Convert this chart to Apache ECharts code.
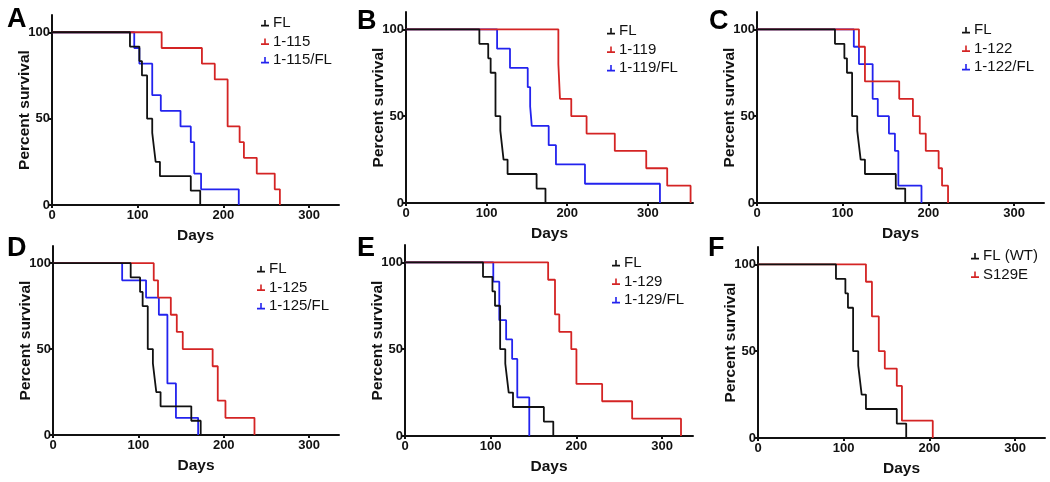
<!DOCTYPE html>
<html><head><meta charset="utf-8">
<script src="https://cdn.jsdelivr.net/npm/echarts@6/dist/echarts.min.js"></script>
<style>html,body{margin:0;padding:0;background:#fff}#c{width:1050px;height:482px}</style>
</head><body><div id="c"></div>
<script>
// ---- tick labels ----
const xTicks = [0, 100, 200, 300];
const yTicks = [0, 50, 100];
const panelLetters = ['A', 'B', 'C', 'D', 'E', 'F'];

// ---- FL control (n=12), shared by all panels ----
const flDays = [91, 102, 105, 111, 117, 119, 121, 126, 162, 173];
const flSurv = [91.7, 83.3, 75, 50, 41.7, 33.3, 25, 16.7, 8.3, 0];

// ---- Panel A ----
const a115Days = [128, 175, 190, 205, 219, 224, 239, 260, 266];
const a115Surv = [90.9, 81.8, 72.7, 45.5, 36.4, 27.3, 18.2, 9.1, 0];
const a115flDays = [96, 102, 117, 127, 150, 162, 166, 174, 218];
const a115flSurv = [90.9, 81.8, 63.6, 54.5, 45.5, 36.4, 18.2, 9.1, 0];

// ---- Panel B ----
const b119Days = [189, 191, 205, 224, 259, 298, 324, 353];
const b119Surv = [80, 60, 50, 40, 30, 20, 10, 0];
const b119flDays = [113, 129, 151, 154, 156, 177, 186, 222, 315];
const b119flSurv = [88.9, 77.8, 66.7, 55.6, 44.4, 33.3, 22.2, 11.1, 0];

// ---- Panel C ----
const c122Days = [119, 126, 166, 182, 190, 197, 212, 216, 223];
const c122Surv = [90, 70, 60, 50, 40, 30, 20, 10, 0];
const c122flDays = [113, 119, 135, 141, 154, 161, 165, 192];
const c122flSurv = [90, 80, 60, 50, 40, 30, 10, 0];

// ---- Panel D ----
const d125Days = [118, 123, 138, 145, 152, 187, 193, 202, 236];
const d125Surv = [90, 80, 70, 60, 50, 40, 20, 10, 0];
const d125flDays = [81, 109, 124, 134, 144, 170];
const d125flSurv = [90, 80, 70, 30, 10, 0];

// ---- Panel E ----
const e129Days = [167, 175, 180, 194, 200, 230, 265, 322];
const e129Surv = [90, 70, 60, 50, 30, 20, 10, 0];
const e129flDays = [103, 110, 118, 125, 131, 145];
const e129flSurv = [88.9, 66.7, 55.6, 44.4, 22.2, 0];

// ---- Panel F ----
const fS129EDays = [126, 133, 141, 148, 162, 168, 204];
const fS129ESurv = [90, 70, 50, 40, 30, 10, 0];

const RED = '#d42424', BLUE = '#2323ee', BLACK = '#111111';

function km(days, surv) {
  const out = [[0, 100]];
  days.forEach((d, i) => out.push([d, surv[i]]));
  return out;
}

const panels = [
  { left: 52, top: 15, width: 287, height: 190, xmax: 335, lg: { left: 261, top: 14 },
    series: [['1-115/FL', a115flDays, a115flSurv, BLUE], ['1-115', a115Days, a115Surv, RED], ['FL', flDays, flSurv, BLACK]],
    legend: ['FL', '1-115', '1-115/FL'], letter: { left: 7, top: 6 } },
  { left: 406, top: 12, width: 287, height: 191, xmax: 356, lg: { left: 607, top: 22 },
    series: [['1-119/FL', b119flDays, b119flSurv, BLUE], ['1-119', b119Days, b119Surv, RED], ['FL', flDays, flSurv, BLACK]],
    legend: ['FL', '1-119', '1-119/FL'], letter: { left: 357, top: 8 } },
  { left: 757, top: 12, width: 287, height: 191, xmax: 335, lg: { left: 962, top: 21 },
    series: [['1-122/FL', c122flDays, c122flSurv, BLUE], ['1-122', c122Days, c122Surv, RED], ['FL', flDays, flSurv, BLACK]],
    legend: ['FL', '1-122', '1-122/FL'], letter: { left: 709, top: 8 } },
  { left: 53, top: 246, width: 286, height: 189, xmax: 335, lg: { left: 257, top: 260 },
    series: [['1-125/FL', d125flDays, d125flSurv, BLUE], ['1-125', d125Days, d125Surv, RED], ['FL', flDays, flSurv, BLACK]],
    legend: ['FL', '1-125', '1-125/FL'], letter: { left: 7, top: 235 } },
  { left: 405, top: 245, width: 288, height: 191, xmax: 336, lg: { left: 612, top: 254 },
    series: [['1-129/FL', e129flDays, e129flSurv, BLUE], ['1-129', e129Days, e129Surv, RED], ['FL', flDays, flSurv, BLACK]],
    legend: ['FL', '1-129', '1-129/FL'], letter: { left: 357, top: 235 } },
  { left: 758, top: 247, width: 287, height: 191, xmax: 335, lg: { left: 971, top: 247 },
    series: [['S129E', fS129EDays, fS129ESurv, RED], ['FL (WT)', flDays, flSurv, BLACK]],
    legend: ['FL (WT)', 'S129E'], letter: { left: 708, top: 235 } }
];

const FONT = 'Liberation Sans, Arial, sans-serif';
const icon = 'path://M0,8 L10,8 L10,10 L0,10 Z M4,2 L6,2 L6,8 L4,8 Z';

const option = {
  animation: false,
  backgroundColor: '#fff',
  grid: [], xAxis: [], yAxis: [], series: [], legend: [], graphic: []
};

panels.forEach((p, i) => {
  option.grid.push({ left: p.left, top: p.top, width: p.width, height: p.height });
  option.xAxis.push({
    gridIndex: i, type: 'value', min: 0, max: p.xmax,
    name: 'Days', nameLocation: 'middle', nameGap: 23, nameMoveOverlap: false,
    nameTextStyle: { fontFamily: FONT, fontWeight: 'bold', fontSize: 15.5, color: '#111' },
    axisLine: { lineStyle: { color: '#111', width: 2 } },
    axisTick: { show: true, length: 3, lineStyle: { color: '#111', width: 2 }, customValues: xTicks },
    axisLabel: { customValues: xTicks, fontFamily: FONT, fontWeight: 'bold', fontSize: 13, color: '#111', margin: 4 },
    splitLine: { show: false }
  });
  option.yAxis.push({
    gridIndex: i, type: 'value', min: 0, max: 110,
    name: 'Percent survival', nameLocation: 'middle', nameGap: 19, nameMoveOverlap: false,
    nameTextStyle: { fontFamily: FONT, fontWeight: 'bold', fontSize: 15.5, color: '#111' },
    axisLine: { show: true, lineStyle: { color: '#111', width: 2 } },
    axisTick: { show: true, length: 3, lineStyle: { color: '#111', width: 2 }, customValues: yTicks },
    axisLabel: { customValues: yTicks, fontFamily: FONT, fontWeight: 'bold', fontSize: 13, color: '#111', margin: 2 },
    splitLine: { show: false }
  });
  p.series.forEach(s => {
    option.series.push({
      name: s[0], type: 'line', xAxisIndex: i, yAxisIndex: i, step: 'end',
      data: km(s[1], s[2]), showSymbol: false, symbol: 'none',
      lineStyle: { color: s[3], width: 1.8 }, itemStyle: { color: s[3] },
      emphasis: { disabled: true }
    });
  });
  option.legend.push({
    data: p.legend, orient: 'vertical', left: p.lg.left, top: p.lg.top,
    icon: icon, itemWidth: 8, itemHeight: 8, itemGap: 0, padding: 0,
    textStyle: { fontFamily: FONT, fontSize: 15, color: '#111', lineHeight: 18.5, padding: [0, 0, 0, -1] },
    selectedMode: false
  });
  option.graphic.push({
    type: 'text', left: p.letter.left, top: p.letter.top,
    style: { text: panelLetters[i], fontFamily: FONT, fontWeight: 'bold', fontSize: 27, fill: '#000' }
  });
});

const chart = echarts.init(document.getElementById('c'), null, { renderer: 'canvas' });
chart.setOption(option);
</script>
</body></html>
